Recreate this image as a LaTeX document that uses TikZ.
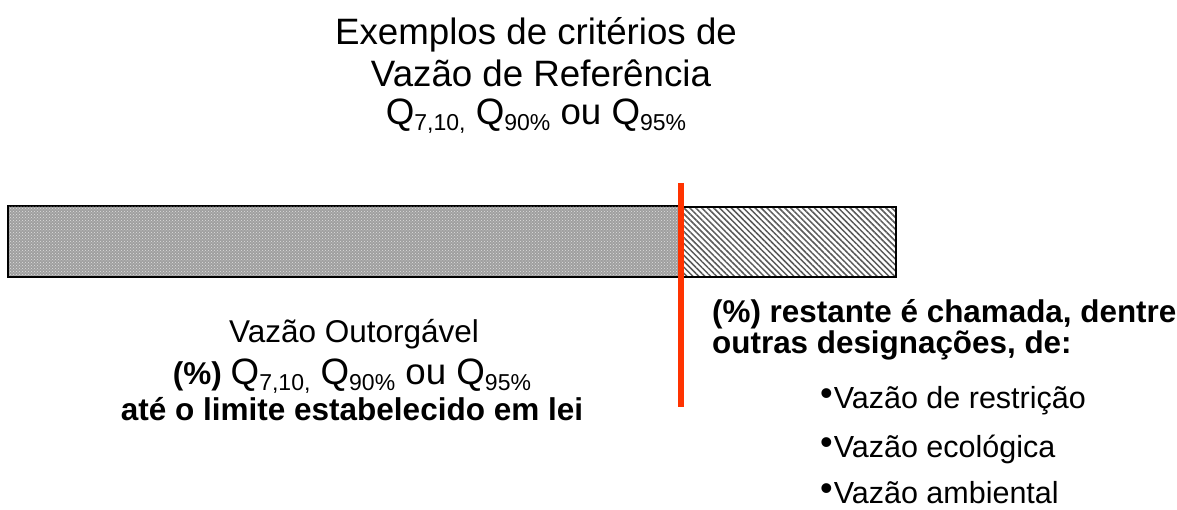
\documentclass[tikz,border=0pt]{standalone}
\usepackage{fontspec}
\setmainfont{Liberation Sans}
\usetikzlibrary{patterns,patterns.meta}
\definecolor{cutred}{RGB}{255,51,0}
\newcommand{\fs}[1]{\fontsize{#1}{#1}\selectfont}
\newcommand{\sq}[1]{Q\raisebox{-6pt}{\fs{23}#1}}
\newcommand{\blt}{\raisebox{3pt}{\fs{36}•}\hspace{1pt}}
\begin{document}
\begin{tikzpicture}[x=1pt,y=-1pt,every node/.style={inner sep=0pt}]
                \useasboundingbox (0,0) rectangle (1177,510);
                %% title
                \node[anchor=base] (title1) at (536,45) {\fs{36.7}Exemplos de critérios de};
                \node[anchor=base] (title2) at (541,87) {\fs{36.7}Vazão de Referência};
                \node[anchor=base] (title3) at (536,125) {\fs{36.7}\sq{7,10,} \sq{90\%} ou \sq{95\%}};
                %% bar: granted part
                \draw[line width=2pt,fill=gray!75] (8,206) rectangle (681,277);
                \fill[pattern=crosshatch dots,pattern color=white!75!gray] (9,207) rectangle (680,276);
                %% bar: remaining part
                \draw[line width=1.2pt,pattern={Lines[angle=-45,distance=4.2pt,line width=1.5pt]},pattern color=gray!70!black] (681,207) rectangle (896,277);
                %% cut line
                \coordinate (cuttop) at (681,183);
                \coordinate (cutbot) at (681,407);
                \draw[cutred,line width=5.5pt] (cuttop) -- (cutbot);
                %% granted flow
                \node[anchor=base] (grant1) at (354,342) {\fs{31.5}Vazão Outorgável};
                \node[anchor=base] (grant2) at (352,384) {\fs{31.5}\textbf{(\%)} \fs{36.7}\sq{7,10,} \sq{90\%} ou \sq{95\%}};
                \node[anchor=base] (grant3) at (352,420) {\fs{31.5}\bfseries até o limite estabelecido em lei};
                %% remaining flow
                \node[anchor=base west] (rest1) at (712,323) {\fs{31.4}\bfseries (\%) restante é chamada, dentre};
                \node[anchor=base west] (rest2) at (712,353) {\fs{31.4}\bfseries outras designações, de:};
                \node[anchor=base west] (item1) at (820,408) {\blt\fs{30.5}Vazão de restrição};
                \node[anchor=base west] (item2) at (820,457) {\blt\fs{30.5}Vazão ecológica};
                \node[anchor=base west] (item3) at (820,503) {\blt\fs{30.5}Vazão ambiental};
            \end{tikzpicture}
\end{document}
